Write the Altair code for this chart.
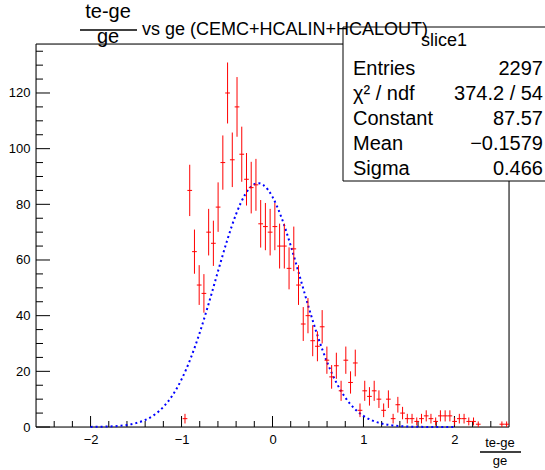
import altair as alt
import pandas as pd

# ---------------- data ----------------
X_MIN, X_MAX = -2.6, 2.6
N_BINS = 100
COUNTS = [0] * 31 + [
    3, 85, 63, 51, 48, 70, 66, 79, 95, 120,
    96, 115, 98, 89, 86, 87, 73, 72, 70, 72,
    65, 65, 57, 64, 51, 37, 40, 31, 29, 36,
    24, 18, 22, 13, 24, 16, 23, 6, 13, 11,
    13, 10, 6, 10, 3, 8, 5, 3, 3, 2,
    3, 4, 3, 2, 4, 4, 4, 2, 3, 3,
    2, 2, 1, 0, 0, 0, 0, 1, 1]

FIT_X = [-2.0, -1.9, -1.8, -1.7, -1.6, -1.5, -1.4, -1.3, -1.2, -1.1,
         -1.0, -0.9, -0.8, -0.7, -0.6, -0.5, -0.4, -0.3, -0.2, -0.15,
         -0.1, 0.0, 0.1, 0.2, 0.3, 0.4, 0.5, 0.6, 0.7, 0.8, 0.9, 1.0,
         1.1, 1.2, 1.3, 1.4, 1.5, 1.6, 1.7, 1.8, 1.9, 2.0]
FIT_Y = [0.04, 0.08, 0.18, 0.37, 0.73, 1.39, 2.51, 4.35, 7.19, 11.34,
         17.10, 24.64, 33.89, 44.52, 55.84, 66.89, 76.51, 83.59, 87.21, 87.56,
         86.89, 82.68, 75.13, 65.21, 54.04, 42.77, 32.32, 23.34, 16.09, 10.59, 6.66, 3.99,
         2.29, 1.25, 0.66, 0.33, 0.16, 0.07, 0.03, 0.01, 0.005, 0.002]

STAT_NAMES = ["Entries", "χ² / ndf", "Constant", "Mean", "Sigma"]
STAT_VALUES = ["2297", "374.2 / 54", "87.57", "−0.1579", "0.466"]
STAT_TITLE = "slice1"

X_LABELS = [-2, -1, 0, 1, 2]
Y_LABELS = [0, 20, 40, 60, 80, 100, 120]
X_MINOR = [round(-2.4 + 0.2 * i, 2) for i in range(25)]
Y_MINOR = [5 * i for i in range(28)]
Y_TOP = 137.6

# ---------------- tables ----------------
bw = (X_MAX - X_MIN) / N_BINS
rows = []
for k, c in enumerate(COUNTS):
    if c > 0:
        lo = X_MIN + k * bw
        rows.append({"lo": lo, "hi": lo + bw, "center": lo + bw / 2, "count": c,
                     "ylo": c - c ** 0.5, "yhi": c + c ** 0.5})
hist = pd.DataFrame(rows)
fit = pd.DataFrame({"x": FIT_X, "y": FIT_Y})
one = pd.DataFrame({"t": [0]})

W, H = 473, 383
FONT = "Liberation Sans"

xs = alt.Scale(domain=[X_MIN, X_MAX], nice=False, zero=False)
ys = alt.Scale(domain=[0, Y_TOP], nice=False, zero=False)

x_axis = alt.Axis(values=X_LABELS, format="d", ticks=False, domain=False, grid=False, title=None,
                  labelFont=FONT, labelFontSize=13, labelColor="black", labelPadding=6,
                  labelFlush=False)
y_axis = alt.Axis(values=Y_LABELS, format="d", ticks=False, domain=False, grid=False, title=None,
                  labelFont=FONT, labelFontSize=13, labelColor="black", labelPadding=6)

RED = "#ff0000"

vbars = alt.Chart(hist).mark_rule(color=RED, strokeWidth=1).encode(
    x=alt.X("center:Q", scale=xs, axis=x_axis),
    y=alt.Y("ylo:Q", scale=ys, axis=y_axis),
    y2="yhi:Q",
)
hbars = alt.Chart(hist).mark_rule(color=RED, strokeWidth=1).encode(
    x=alt.X("lo:Q", scale=xs),
    x2="hi:Q",
    y=alt.Y("count:Q", scale=ys),
)
fitline = alt.Chart(fit).mark_line(color="#0000ff", strokeWidth=2, strokeDash=[2, 3],
                                   interpolate="monotone").encode(
    x=alt.X("x:Q", scale=xs),
    y=alt.Y("y:Q", scale=ys),
)

# inward ticks
def vticks(vals, length):
    return alt.Chart(pd.DataFrame({"v": vals})).mark_rule(color="black", strokeWidth=1).encode(
        x=alt.X("v:Q", scale=xs), y=alt.value(H), y2=alt.value(H - length))

def hticks(vals, length):
    return alt.Chart(pd.DataFrame({"v": vals})).mark_rule(color="black", strokeWidth=1).encode(
        y=alt.Y("v:Q", scale=ys), x=alt.value(0), x2=alt.value(length))

x_minor = [v for v in X_MINOR if abs(v - round(v)) > 1e-6]
y_minor = [v for v in Y_MINOR if v % 20 != 0]

frame = alt.Chart(one).mark_rect(fill="white", fillOpacity=0, stroke="black", strokeWidth=1).encode(
    x=alt.value(0), x2=alt.value(W), y=alt.value(0), y2=alt.value(H))

def txt(s, x, y, size, align="left", baseline="alphabetic"):
    return alt.Chart(one).mark_text(text=s, align=align, baseline=baseline, font=FONT,
                                    fontSize=size, color="black").encode(
        x=alt.value(x), y=alt.value(y))

def hline(x1, x2, y, w=1):
    return alt.Chart(one).mark_rule(color="black", strokeWidth=w).encode(
        x=alt.value(x1), x2=alt.value(x2), y=alt.value(y))

# stats box (plot coordinates; plot origin at page (36,44))
box = alt.Chart(one).mark_rect(fill="white", stroke="black", strokeWidth=1).encode(
    x=alt.value(307), x2=alt.value(530), y=alt.value(-17), y2=alt.value(137))
stats_layers = [box, txt(STAT_TITLE, 408, -3, 18, align="center", baseline="middle")]
for i, (n, v) in enumerate(zip(STAT_NAMES, STAT_VALUES)):
    yy = 25 + 25 * i
    stats_layers.append(txt(n, 317, yy, 20, baseline="middle"))
    stats_layers.append(txt(v, 507, yy, 20, align="right", baseline="middle"))

# title
title_layers = [
    txt("te-ge", 72, -26, 20, align="center"),
    hline(44, 101, -14, 1.5),
    txt("ge", 72, -1, 20, align="center"),
    txt("vs ge (CEMC+HCALIN+HCALOUT)", 106, -9, 18),
]
# x axis title
xtitle_layers = [
    txt("te-ge", 464, 403, 13, align="center"),
    hline(444, 485, 408, 1.5),
    txt("ge", 464, 421, 13, align="center"),
]

chart = alt.layer(
    frame,
    vticks(X_LABELS, 11), vticks(x_minor, 6),
    hticks(Y_LABELS, 14), hticks(y_minor, 7),
    fitline, vbars, hbars,
    *stats_layers,
    *title_layers,
    *xtitle_layers,
).properties(
    width=W, height=H,
    autosize=alt.AutoSizeParams(type="none"),
    padding={"left": 36, "top": 44, "right": 36, "bottom": 43},
).configure_view(stroke=None).configure(background="white")

chart.save("out.html", embed_options={"renderer": "svg", "actions": False})
